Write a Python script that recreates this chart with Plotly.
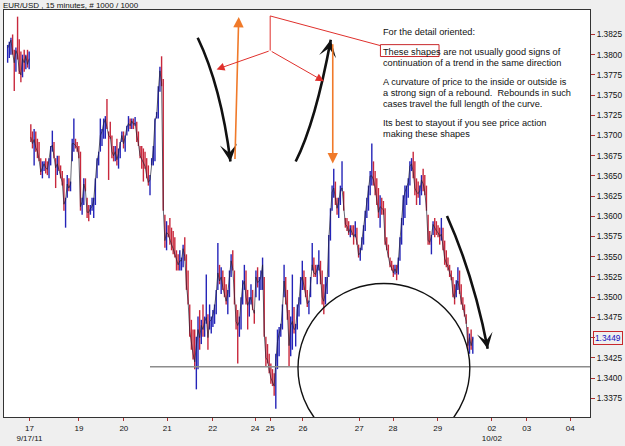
import plotly.graph_objects as go

# ---------------- data (EUR/USD; one bar per reading) ----------------
high = [
    1.3812, 1.3816, 1.3821, 1.3825, 1.3806, 1.3809, 1.3847, 1.3819, 1.3804, 1.3800,
    1.3806, 1.3800, 1.3806, 1.3804, 1.3714, 1.3705, 1.3708, 1.3705, 1.3696, 1.3692,
    1.3672, 1.3668, 1.3668, 1.3672, 1.3668, 1.3672, 1.3687, 1.3706, 1.3692, 1.3672,
    1.3675, 1.3675, 1.3663, 1.3656, 1.3647, 1.3623, 1.3651, 1.3647, 1.3643, 1.3696,
    1.3721, 1.3696, 1.3692, 1.3687, 1.3680, 1.3623, 1.3647, 1.3647, 1.3623, 1.3614,
    1.3614, 1.3623, 1.3623, 1.3647, 1.3672, 1.3680, 1.3721, 1.3708, 1.3721, 1.3724,
    1.3745, 1.3705, 1.3717, 1.3700, 1.3687, 1.3687, 1.3696, 1.3684, 1.3692, 1.3705,
    1.3705, 1.3700, 1.3712, 1.3724, 1.3721, 1.3721, 1.3721, 1.3723, 1.3717, 1.3705,
    1.3687, 1.3687, 1.3684, 1.3680, 1.3672, 1.3663, 1.3651, 1.3672, 1.3687, 1.3721,
    1.3729, 1.3761, 1.3785, 1.3798, 1.3770, 1.3602, 1.3594, 1.3589, 1.3598, 1.3586,
    1.3582, 1.3574, 1.3558, 1.3553, 1.3558, 1.3549, 1.3565, 1.3574, 1.3553, 1.3533,
    1.3491, 1.3472, 1.3460, 1.3460, 1.3451, 1.3476, 1.3484, 1.3472, 1.3491, 1.3476,
    1.3528, 1.3479, 1.3491, 1.3476, 1.3484, 1.3491, 1.3509, 1.3567, 1.3540, 1.3537,
    1.3533, 1.3525, 1.3516, 1.3509, 1.3533, 1.3553, 1.3558, 1.3533, 1.3491, 1.3484,
    1.3476, 1.3500, 1.3521, 1.3540, 1.3533, 1.3509, 1.3500, 1.3516, 1.3509, 1.3484,
    1.3533, 1.3537, 1.3525, 1.3533, 1.3549, 1.3525, 1.3451, 1.3442, 1.3430, 1.3418,
    1.3411, 1.3406, 1.3430, 1.3460, 1.3463, 1.3467, 1.3491, 1.3540, 1.3525, 1.3509,
    1.3484, 1.3476, 1.3528, 1.3488, 1.3467, 1.3491, 1.3500, 1.3525, 1.3545, 1.3533,
    1.3525, 1.3509, 1.3496, 1.3525, 1.3567, 1.3549, 1.3540, 1.3540, 1.3558, 1.3545,
    1.3533, 1.3516, 1.3525, 1.3525, 1.3577, 1.3610, 1.3638, 1.3659, 1.3643, 1.3623,
    1.3623, 1.3638, 1.3668, 1.3631, 1.3598, 1.3598, 1.3594, 1.3589, 1.3589, 1.3589,
    1.3594, 1.3586, 1.3565, 1.3561, 1.3574, 1.3589, 1.3607, 1.3623, 1.3638, 1.3656,
    1.3690, 1.3668, 1.3656, 1.3647, 1.3635, 1.3626, 1.3623, 1.3619, 1.3610, 1.3574,
    1.3565, 1.3549, 1.3545, 1.3540, 1.3540, 1.3540, 1.3549, 1.3574, 1.3598, 1.3626,
    1.3638, 1.3638, 1.3647, 1.3668, 1.3672, 1.3680, 1.3668, 1.3647, 1.3643, 1.3638,
    1.3651, 1.3659, 1.3651, 1.3638, 1.3602, 1.3582, 1.3577, 1.3594, 1.3598, 1.3594,
    1.3589, 1.3586, 1.3598, 1.3586, 1.3570, 1.3558, 1.3549, 1.3540, 1.3533, 1.3525,
    1.3516, 1.3521, 1.3537, 1.3533, 1.3516, 1.3500, 1.3491, 1.3479, 1.3463, 1.3455,
    1.3460, 1.3451,
]
low = [
    1.3790, 1.3796, 1.3800, 1.3800, 1.3755, 1.3779, 1.3794, 1.3776, 1.3766, 1.3772,
    1.3779, 1.3782, 1.3784, 1.3782, 1.3692, 1.3684, 1.3663, 1.3680, 1.3672, 1.3668,
    1.3651, 1.3647, 1.3656, 1.3653, 1.3651, 1.3647, 1.3663, 1.3680, 1.3672, 1.3635,
    1.3651, 1.3656, 1.3647, 1.3638, 1.3607, 1.3586, 1.3623, 1.3631, 1.3631, 1.3668,
    1.3680, 1.3684, 1.3680, 1.3672, 1.3607, 1.3602, 1.3614, 1.3631, 1.3598, 1.3594,
    1.3602, 1.3607, 1.3598, 1.3614, 1.3647, 1.3663, 1.3680, 1.3687, 1.3696, 1.3696,
    1.3708, 1.3645, 1.3696, 1.3672, 1.3668, 1.3668, 1.3663, 1.3659, 1.3672, 1.3692,
    1.3684, 1.3680, 1.3700, 1.3705, 1.3708, 1.3708, 1.3708, 1.3712, 1.3692, 1.3687,
    1.3672, 1.3659, 1.3643, 1.3659, 1.3647, 1.3638, 1.3626, 1.3663, 1.3663, 1.3668,
    1.3721, 1.3721, 1.3754, 1.3761, 1.3607, 1.3561, 1.3558, 1.3574, 1.3565, 1.3558,
    1.3553, 1.3549, 1.3533, 1.3533, 1.3533, 1.3533, 1.3537, 1.3545, 1.3509, 1.3491,
    1.3451, 1.3435, 1.3423, 1.3411, 1.3386, 1.3411, 1.3435, 1.3442, 1.3451, 1.3451,
    1.3467, 1.3435, 1.3460, 1.3455, 1.3463, 1.3467, 1.3479, 1.3509, 1.3516, 1.3504,
    1.3509, 1.3500, 1.3491, 1.3479, 1.3500, 1.3525, 1.3533, 1.3491, 1.3460, 1.3418,
    1.3451, 1.3460, 1.3491, 1.3509, 1.3491, 1.3460, 1.3476, 1.3491, 1.3484, 1.3467,
    1.3500, 1.3512, 1.3496, 1.3509, 1.3509, 1.3451, 1.3414, 1.3418, 1.3406, 1.3393,
    1.3390, 1.3378, 1.3362, 1.3411, 1.3427, 1.3451, 1.3460, 1.3500, 1.3491, 1.3472,
    1.3414, 1.3427, 1.3435, 1.3455, 1.3439, 1.3460, 1.3476, 1.3491, 1.3509, 1.3509,
    1.3500, 1.3488, 1.3479, 1.3500, 1.3533, 1.3525, 1.3525, 1.3516, 1.3533, 1.3516,
    1.3491, 1.3479, 1.3491, 1.3504, 1.3525, 1.3570, 1.3607, 1.3623, 1.3614, 1.3602,
    1.3598, 1.3614, 1.3631, 1.3607, 1.3586, 1.3582, 1.3577, 1.3574, 1.3577, 1.3565,
    1.3574, 1.3565, 1.3549, 1.3545, 1.3558, 1.3565, 1.3582, 1.3598, 1.3607, 1.3626,
    1.3638, 1.3638, 1.3626, 1.3614, 1.3598, 1.3586, 1.3602, 1.3602, 1.3565, 1.3558,
    1.3549, 1.3537, 1.3533, 1.3525, 1.3528, 1.3521, 1.3528, 1.3545, 1.3565, 1.3589,
    1.3598, 1.3614, 1.3623, 1.3638, 1.3656, 1.3647, 1.3626, 1.3614, 1.3623, 1.3614,
    1.3626, 1.3631, 1.3626, 1.3607, 1.3565, 1.3565, 1.3553, 1.3577, 1.3574, 1.3577,
    1.3574, 1.3565, 1.3570, 1.3558, 1.3540, 1.3537, 1.3533, 1.3525, 1.3521, 1.3500,
    1.3491, 1.3500, 1.3509, 1.3504, 1.3491, 1.3484, 1.3476, 1.3467, 1.3435, 1.3430,
    1.3435, 1.3430,
]
close = [
    1.3808, 1.3812, 1.3818, 1.3802, 1.3790, 1.3805, 1.3800, 1.3780, 1.3775, 1.3795,
    1.3790, 1.3798, 1.3788, 1.3795, 1.3698, 1.3690, 1.3695, 1.3685, 1.3680, 1.3670,
    1.3655, 1.3660, 1.3665, 1.3660, 1.3658, 1.3670, 1.3685, 1.3688, 1.3675, 1.3660,
    1.3665, 1.3658, 1.3650, 1.3642, 1.3615, 1.3620, 1.3640, 1.3635, 1.3640, 1.3690,
    1.3690, 1.3688, 1.3685, 1.3675, 1.3612, 1.3618, 1.3640, 1.3632, 1.3605, 1.3605,
    1.3610, 1.3612, 1.3620, 1.3645, 1.3668, 1.3678, 1.3700, 1.3705, 1.3715, 1.3720,
    1.3710, 1.3700, 1.3698, 1.3680, 1.3675, 1.3680, 1.3670, 1.3678, 1.3690, 1.3700,
    1.3690, 1.3698, 1.3710, 1.3715, 1.3712, 1.3718, 1.3714, 1.3715, 1.3700, 1.3690,
    1.3675, 1.3670, 1.3665, 1.3662, 1.3650, 1.3642, 1.3645, 1.3668, 1.3682, 1.3718,
    1.3725, 1.3755, 1.3780, 1.3765, 1.3610, 1.3570, 1.3580, 1.3578, 1.3570, 1.3565,
    1.3560, 1.3553, 1.3545, 1.3540, 1.3545, 1.3545, 1.3560, 1.3550, 1.3515, 1.3495,
    1.3458, 1.3440, 1.3430, 1.3420, 1.3440, 1.3460, 1.3450, 1.3465, 1.3460, 1.3470,
    1.3475, 1.3450, 1.3470, 1.3472, 1.3478, 1.3488, 1.3505, 1.3530, 1.3520, 1.3525,
    1.3512, 1.3505, 1.3495, 1.3505, 1.3530, 1.3545, 1.3535, 1.3495, 1.3470, 1.3465,
    1.3470, 1.3495, 1.3515, 1.3520, 1.3500, 1.3490, 1.3495, 1.3500, 1.3486, 1.3480,
    1.3525, 1.3518, 1.3520, 1.3525, 1.3540, 1.3455, 1.3425, 1.3422, 1.3410, 1.3400,
    1.3395, 1.3390, 1.3420, 1.3445, 1.3455, 1.3462, 1.3485, 1.3520, 1.3500, 1.3480,
    1.3440, 1.3465, 1.3470, 1.3460, 1.3462, 1.3485, 1.3495, 1.3520, 1.3525, 1.3515,
    1.3505, 1.3492, 1.3494, 1.3520, 1.3540, 1.3530, 1.3528, 1.3535, 1.3540, 1.3525,
    1.3500, 1.3495, 1.3510, 1.3520, 1.3572, 1.3605, 1.3630, 1.3635, 1.3620, 1.3610,
    1.3618, 1.3632, 1.3635, 1.3610, 1.3590, 1.3588, 1.3580, 1.3585, 1.3580, 1.3575,
    1.3578, 1.3568, 1.3552, 1.3555, 1.3570, 1.3585, 1.3602, 1.3618, 1.3635, 1.3650,
    1.3650, 1.3645, 1.3635, 1.3620, 1.3605, 1.3612, 1.3610, 1.3608, 1.3570, 1.3560,
    1.3552, 1.3540, 1.3536, 1.3530, 1.3535, 1.3530, 1.3545, 1.3570, 1.3592, 1.3620,
    1.3630, 1.3635, 1.3642, 1.3662, 1.3665, 1.3655, 1.3635, 1.3630, 1.3628, 1.3632,
    1.3645, 1.3640, 1.3630, 1.3610, 1.3570, 1.3568, 1.3575, 1.3590, 1.3585, 1.3582,
    1.3580, 1.3575, 1.3578, 1.3562, 1.3548, 1.3542, 1.3538, 1.3530, 1.3524, 1.3505,
    1.3498, 1.3515, 1.3520, 1.3508, 1.3495, 1.3488, 1.3480, 1.3470, 1.3440, 1.3450,
    1.3440, 1.3449,
]
first_open = 1.3795
session_break = 14          # first bar after the gap in the data
assert len(high) == len(low) == len(close)

# day boundaries (in bar units) and their labels
day_pos = [13.2, 43.1, 70.2, 96.4, 123.9, 149.5, 158.6, 178.4, 212.4, 232.8, 259.8, 292.5, 313.6, 339.9]
day_labels = ["17<br>9/17/11", "19", "20", "21", "22", "24", "25", "26", "27", "28", "29",
              "02<br>10/02", "03", "04"]
price_ticks = [1.3375, 1.3400, 1.3425, 1.3450, 1.3475, 1.3500, 1.3525, 1.3550, 1.3575, 1.3600,
               1.3625, 1.3650, 1.3675, 1.3700, 1.3725, 1.3750, 1.3775, 1.3800, 1.3825]
price_tick_text = ["1.3375", "1.3400", "1.3425", "", "1.3475", "1.3500", "1.3525", "1.3550",
                   "1.3575", "1.3600", "1.3625", "1.3650", "1.3675", "1.3700", "1.3725",
                   "1.3750", "1.3775", "1.3800", "1.3825"]
last_price = 1.3449
support_level = 1.3414

x_range = [-2.2, 351.8]
y_range = [1.335178, 1.385525]

FONT = "Liberation Sans, Arial, sans-serif"
bars = list(range(len(high)))
opens = [first_open] + close[:-1]

fig = go.Figure()
# thin dark path through the closes, giving the continuous scribble of the original
for seg in (slice(0, session_break), slice(session_break, None)):
    fig.add_trace(go.Scatter(x=bars[seg], y=close[seg], mode="lines",
                             line=dict(color="rgba(30,30,50,0.75)", width=0.9),
                             hoverinfo="skip", showlegend=False))
fig.add_trace(go.Ohlc(
    x=bars, open=opens, high=high, low=low, close=close,
    increasing=dict(line=dict(color="#2424b8", width=1.4)),
    decreasing=dict(line=dict(color="#c8283c", width=1.4)),
    tickwidth=0, hoverinfo="skip", showlegend=False,
))

shapes = []
# support line and circle
shapes.append(dict(type="line", xref="x", yref="y", x0=86, x1=x_range[1], y0=support_level,
                   y1=support_level, line=dict(color="#8c8c8c", width=1.6), layer="above"))
shapes.append(dict(type="circle", xref="x", yref="y", x0=175.4, x1=279.2, y0=1.33077, y1=1.3517,
                   line=dict(color="#111111", width=1.4), layer="above"))
# black curved arrows (bodies)
black_curves = [
    "M 114.8,1.38210 Q 128.9,1.37609 134.6,1.36678",
    "M 174.0,1.36678 Q 186.0,1.37166 195.2,1.38185",
    "M 265.4,1.36005 Q 281.4,1.35272 290.0,1.34363",
]
for p in black_curves:
    shapes.append(dict(type="path", xref="x", yref="y", path=p,
                       line=dict(color="#111111", width=2.6), layer="above"))
# red connector lines and box
shapes.append(dict(type="line", xref="x", yref="y", x0=158.6, x1=158.6, y0=1.38479, y1=1.38050,
                   line=dict(color="#e0302c", width=1), layer="above"))
shapes.append(dict(type="line", xref="x", yref="y", x0=158.6, x1=225.2, y0=1.38479, y1=1.38112,
                   line=dict(color="#e0302c", width=1), layer="above"))
shapes.append(dict(type="rect", xref="x", yref="y", x0=225.2, x1=260.6, y0=1.37977, y1=1.38124,
                   line=dict(color="#c8282c", width=1), layer="above"))

annotations = []


def arrow(tail, tip, color, width, head, size):
    annotations.append(dict(
        x=tip[0], y=tip[1], ax=tail[0], ay=tail[1], xref="x", yref="y", axref="x", ayref="y",
        text="", showarrow=True, arrowhead=head, arrowsize=size, arrowwidth=width,
        arrowcolor=color, standoff=0, startstandoff=0))


# black arrow heads
arrow((133.9, 1.36801), (134.6, 1.36678), "#111111", 2.6, 3, 1.1)
arrow((194.1, 1.38065), (195.2, 1.38185), "#111111", 2.6, 3, 1.1)
arrow((288.9, 1.34483), (290.0, 1.34363), "#111111", 2.2, 3, 1.2)
# orange arrows
arrow((137.3, 1.36691), (139.6, 1.38467), "#f07a2a", 1.6, 2, 1.3)
arrow((196.4, 1.38148), (196.4, 1.36654), "#f07a2a", 1.6, 2, 1.3)
# red arrows
arrow((158.6, 1.38050), (126.2, 1.37818), "#e0302c", 1.0, 2, 1.6)
arrow((158.6, 1.38050), (191.0, 1.37671), "#e0302c", 1.0, 2, 1.6)

text_lines = [
    ("For the detail oriented:", 1.38283),
    ("These shapes are not usually good signs of", 1.38038),
    ("continuation of a trend in the same direction", 1.37903),
    ("A curvature of price to the inside or outside is", 1.37658),
    ("a strong sign of a rebound.  Rebounds in such", 1.37524),
    ("cases travel the full length of the curve.", 1.37389),
    ("Its best to stayout if you see price action", 1.37156),
    ("making these shapes", 1.37021),
]
for t, yv in text_lines:
    annotations.append(dict(x=225.8, y=yv, xref="x", yref="y", text=t.replace("  ", "&nbsp; "),
                            showarrow=False, xanchor="left", yanchor="middle",
                            font=dict(family=FONT, size=9.2, color="#111111")))

# title and last price label
annotations.append(dict(x=0, y=1, xref="paper", yref="paper", xanchor="left", yanchor="middle",
                        xshift=-3, yshift=5, showarrow=False,
                        text="EUR/USD , 15 minutes, # 1000 / 1000",
                        font=dict(family=FONT, size=8, color="#111111")))
annotations.append(dict(x=1, y=last_price, xref="paper", yref="y", xanchor="left", yanchor="middle",
                        xshift=3, showarrow=False, text=f"{last_price:.4f}",
                        font=dict(family=FONT, size=8.3, color="#1010c0"),
                        bordercolor="#c8282c", borderwidth=1, borderpad=1))

fig.update_layout(
    width=625, height=446,
    margin=dict(l=3, r=32, t=10, b=25),
    paper_bgcolor="#efefef", plot_bgcolor="#ffffff",
    showlegend=False,
    shapes=shapes, annotations=annotations,
    font=dict(family=FONT, size=8, color="#111111"),
    xaxis=dict(range=x_range, tickmode="array", tickvals=day_pos, ticktext=day_labels,
               ticks="outside", ticklen=3, tickcolor="#b03030", showline=True, mirror=True,
               linecolor="#333333", linewidth=1, showgrid=False, zeroline=False,
               rangeslider=dict(visible=False), tickfont=dict(family=FONT, size=8, color="#111111"),
               fixedrange=True),
    yaxis=dict(range=y_range, side="right", tickmode="array", tickvals=price_ticks,
               ticktext=price_tick_text, ticks="outside", ticklen=4, tickcolor="#b03030",
               showline=True, mirror=True, linecolor="#333333", linewidth=1, showgrid=False,
               zeroline=False, tickfont=dict(family=FONT, size=8.3, color="#111111"),
               fixedrange=True),
)

fig.write_html("out.html")
